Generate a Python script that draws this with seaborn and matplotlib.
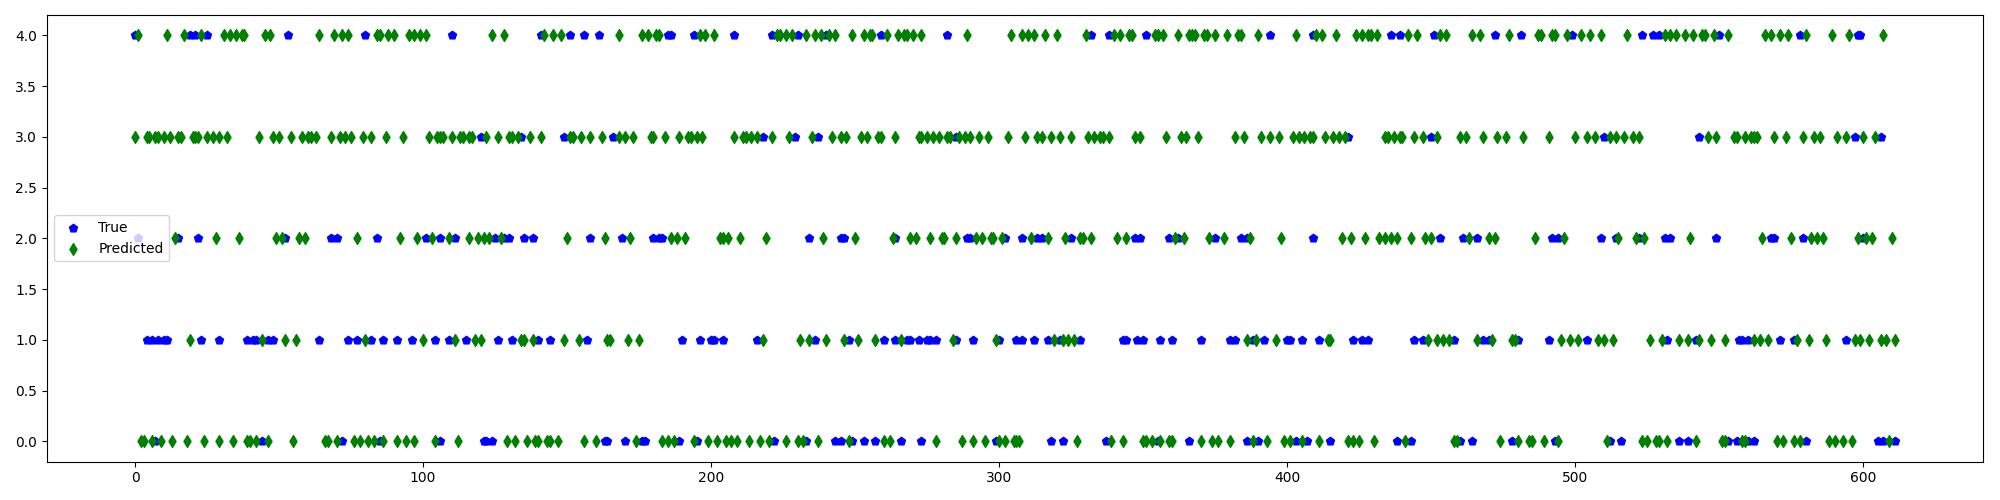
import pandas as pd
import matplotlib
matplotlib.use("Agg")
import matplotlib.pyplot as plt
import seaborn as sns

# sample indices where each class is visible
true_4 = [0, 19, 21, 25, 53, 80, 110, 141, 151, 156, 161, 185, 186, 194, 208, 221,
          230, 240, 259, 282, 332, 338, 351, 394, 409, 436, 439, 451,
          472, 481, 499, 523, 527, 529, 550, 578, 598, 599]
true_3 = [120, 134, 149, 166, 218, 229, 237, 285, 421, 450, 510, 543, 597, 606]
true_2 = [1, 15, 22, 52, 68, 70, 84, 101, 106, 111, 125, 128, 130, 135, 138,
          158, 169, 180, 182, 183, 234, 245, 246, 264, 289, 290, 302, 308,
          313, 315, 325, 347, 349, 359, 362, 375, 384, 386, 409, 453, 461,
          466, 492, 494, 509, 514, 522, 531, 533, 549, 568, 569, 579, 600]
true_1 = [4, 6, 8, 10, 11, 23, 29, 39, 41, 42, 46, 48, 64, 74, 77, 82, 86, 91, 96,
          104, 109, 115, 126, 131, 140, 144, 157, 190, 196, 200, 201, 204, 216,
          236, 248, 260, 264, 268, 269, 272, 275, 276, 278, 285, 291, 300, 306, 308,
          312, 317, 321, 328, 343, 344, 348, 350, 356, 360, 370, 380, 382,
          388, 392, 400, 401, 405, 411, 423, 426, 428, 444, 447, 458,
          468, 470, 480, 491, 504, 532, 542, 557, 558, 560, 571, 576, 594]
true_0 = [7, 44, 72, 85, 106, 121, 122, 124, 163, 164, 170, 176, 177, 189, 195, 222,
          233, 243, 245, 249, 253, 257, 266, 273, 299, 318, 322, 337, 355, 366, 386,
          390, 403, 407, 415, 438, 443, 460, 464, 478, 493, 512, 516, 536, 539,
          553, 556, 560, 562, 580, 605, 607, 611]

pred_4 = [1, 11, 17, 23, 31, 33, 35, 37, 38, 45, 47, 64, 69, 72, 74, 84, 85, 88, 90,
          95, 97, 99, 101, 124, 128, 142, 145, 148, 168, 176, 178, 181, 182, 196,
          198, 201, 223, 224, 226, 228, 233, 236, 238, 241, 243, 249, 253, 255, 256,
          261, 265, 267, 268, 270, 273, 289, 304, 308, 310, 312, 316, 320, 330, 340,
          342, 345, 346, 354, 355, 357, 362, 366, 367, 368, 371, 372, 375, 379, 383,
          384, 390, 403, 410, 412, 417, 424, 426, 428, 429, 431, 442, 445, 453, 455,
          464, 467, 477, 487, 488, 492, 493, 497, 502, 505, 509, 518, 531, 533, 535,
          538, 541, 544, 545, 548, 553, 566, 568, 571, 574, 580, 589, 595, 607]
pred_3 = [0, 4, 5, 7, 8, 10, 12, 15, 16, 20, 21, 22, 25, 27, 29, 32, 43, 48, 50, 54,
          58, 60, 61, 63, 68, 71, 73, 75, 79, 82, 87, 93, 102, 105, 106, 107, 110,
          113, 114, 116, 117, 122, 126, 130, 131, 133, 137, 141, 151, 152, 155, 158,
          162, 168, 170, 173, 179, 180, 184, 189, 192, 193, 195, 197, 208, 211, 212,
          214, 216, 221, 227, 235, 242, 245, 247, 252, 254, 258, 259, 264, 272, 273,
          275, 277, 279, 282, 283, 286, 288, 290, 293, 296, 303, 309, 313, 315, 318,
          321, 325, 331, 333, 335, 336, 338, 347, 349, 358, 363, 365, 369, 382, 385,
          391, 394, 397, 402, 404, 406, 408, 409, 413, 416, 418, 420, 434, 435, 437,
          439, 440, 444, 447, 452, 460, 462, 468, 473, 476, 482, 491, 500, 504, 507,
          512, 514, 517, 520, 522, 546, 549, 555, 556, 559, 561, 562, 563, 569, 573,
          579, 583, 585, 591, 594, 600, 604]
pred_2 = [14, 28, 36, 49, 51, 57, 59, 77, 92, 98, 103, 109, 116, 119, 121, 123, 127,
          150, 163, 172, 186, 188, 191, 203, 204, 206, 210, 219, 239, 250, 263, 269,
          271, 276, 280, 281, 285, 292, 294, 297, 298, 301, 311, 317, 323, 328, 329,
          332, 341, 344, 361, 364, 373, 378, 387, 398, 419, 422, 427, 432, 434, 436,
          438, 443, 448, 450, 463, 470, 472, 486, 496, 515, 521, 524, 540, 565, 575,
          582, 584, 586, 598, 601, 603, 610]
pred_1 = [19, 44, 52, 56, 80, 100, 111, 118, 120, 134, 135, 138, 149, 154, 164, 165,
          171, 175, 218, 231, 234, 240, 246, 251, 257, 266, 284, 299, 319, 322, 324,
          326, 386, 389, 396, 414, 415, 449, 452, 454, 456, 466, 471, 478, 479, 495,
          498, 501, 508, 510, 513, 526, 530, 536, 539, 543, 547, 552, 562, 564, 567,
          577, 581, 587, 597, 599, 602, 606, 608, 611]
pred_0 = [2, 3, 6, 9, 13, 18, 24, 29, 34, 39, 40, 42, 46, 55, 66, 67, 70, 76, 78, 81,
          83, 86, 91, 94, 97, 104, 112, 129, 132, 136, 139, 140, 143, 144, 147, 156,
          160, 174, 183, 185, 187, 194, 199, 202, 205, 207, 209, 213, 217, 220, 226,
          230, 232, 237, 248, 260, 262, 278, 287, 291, 295, 300, 302, 305, 306, 307,
          327, 339, 343, 350, 351, 353, 356, 359, 360, 370, 374, 376, 380, 388, 393,
          399, 401, 405, 411, 421, 423, 425, 430, 441, 458, 459, 474, 480, 484, 485,
          489, 494, 511, 523, 525, 528, 529, 532, 542, 551, 552, 558, 559, 570, 572,
          576, 578, 588, 590, 593, 596, 609]


def to_frame(by_class):
    parts = [pd.DataFrame({"idx": xs, "label": float(k)}) for k, xs in by_class.items()]
    return pd.concat(parts, ignore_index=True)


true_df = to_frame({4: true_4, 3: true_3, 2: true_2, 1: true_1, 0: true_0})
pred_df = to_frame({4: pred_4, 3: pred_3, 2: pred_2, 1: pred_1, 0: pred_0})

fig, ax = plt.subplots(figsize=(20, 5), dpi=100)
sns.scatterplot(data=true_df, x="idx", y="label", marker="p", color="blue",
                edgecolor="blue", linewidth=1, s=36, label="True", ax=ax)
sns.scatterplot(data=pred_df, x="idx", y="label", marker="d", color="green",
                edgecolor="green", linewidth=1, s=36, label="Predicted", ax=ax)

ax.set_xlabel("")
ax.set_ylabel("")
ax.legend(loc="center left")

fig.subplots_adjust(left=0.0235, right=0.9915, bottom=0.0766, top=0.97)
plt.savefig("out.png", dpi=100)
plt.close()
